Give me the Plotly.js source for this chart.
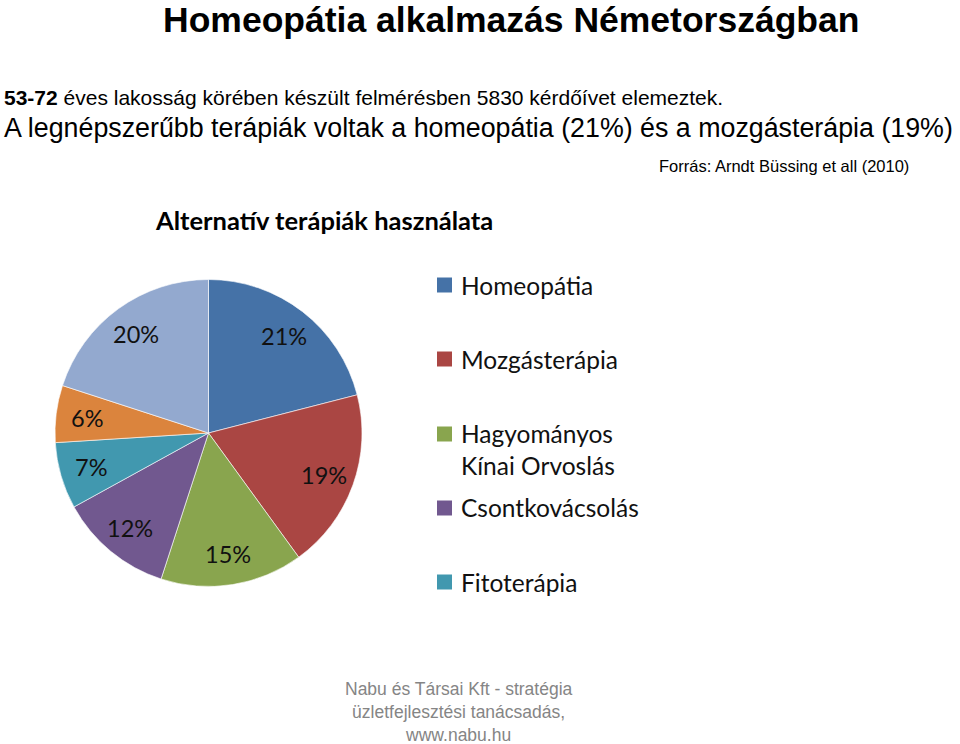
<!DOCTYPE html>
<html>
<head>
<meta charset="utf-8">
<script src="https://cdn.plot.ly/plotly-3.0.1.min.js"></script>
<style>html,body{margin:0;padding:0;background:#fff;}#chart{width:960px;height:744px;}</style>
</head>
<body>
<div id="chart"></div>
<script>
// Data
const sliceLabels = ["Homeopátia", "Mozgásterápia", "Hagyományos Kínai Orvoslás", "Csontkovácsolás", "Fitoterápia", "Egyéb 1", "Egyéb 2"];
const sliceValues = [21, 19, 15, 12, 7, 6, 20];
const sliceColors = ["#4572A7", "#AA4643", "#89A54E", "#71588F", "#4198AF", "#DB843D", "#93A9CF"];
const legendLabels = ["Homeopátia", "Mozgásterápia", "Hagyományos<br>Kínai Orvoslás", "Csontkovácsolás", "Fitoterápia"];

const W = 960, H = 744;
const px = x => x / W;
const py = y => 1 - y / H;

const cx = 208.5, cy = 433, r = 153.5;
const labelR = 0.8;

const pieTrace = {
  type: "pie",
  labels: sliceLabels,
  values: sliceValues,
  sort: false,
  direction: "clockwise",
  rotation: 0,
  marker: {colors: sliceColors, line: {color: "rgba(255,255,255,0.6)", width: 1}},
  textinfo: "none",
  hoverinfo: "label+percent",
  showlegend: false,
  domain: {x: [px(cx - r), px(cx + r)], y: [py(cy + r), py(cy - r)]}
};

const annotations = [];
const shapes = [];
const arial = "'Liberation Sans', Arial, sans-serif";
const calibri = "Lato, 'Open Sans', sans-serif";

// Data labels placed along each slice's bisector (Excel-style best fit)
const total = sliceValues.reduce((a, b) => a + b, 0);
let cum = 0;
sliceValues.forEach(v => {
  const mid = (cum + v / 2) / total * 2 * Math.PI;
  cum += v;
  annotations.push({
    text: Math.round(v / total * 100) + "%",
    x: cx + labelR * r * Math.sin(mid), y: cy - labelR * r * Math.cos(mid),
    xref: "x", yref: "y", xanchor: "center", yanchor: "middle", showarrow: false,
    font: {family: calibri, size: 23.5, color: "#111"}
  });
});

annotations.push({text: "<b>Homeopátia alkalmazás Németországban</b>", x: px(511), y: py(20), xref: "paper", yref: "paper", xanchor: "center", yanchor: "middle", showarrow: false, font: {family: arial, size: 35.5, color: "#000"}});
annotations.push({text: "<b>53-72</b> éves lakosság körében készült felmérésben 5830 kérdőívet elemeztek.", x: px(2), y: py(97), xref: "paper", yref: "paper", xanchor: "left", yanchor: "middle", showarrow: false, font: {family: arial, size: 21, color: "#000"}});
annotations.push({text: "A legnépszerűbb terápiák voltak a homeopátia (21%) és a mozgásterápia (19%)", x: px(2), y: py(128), xref: "paper", yref: "paper", xanchor: "left", yanchor: "middle", showarrow: false, font: {family: arial, size: 26.8, color: "#000"}});
annotations.push({text: "Forrás: Arndt Büssing et all (2010)", x: px(657), y: py(166), xref: "paper", yref: "paper", xanchor: "left", yanchor: "middle", showarrow: false, font: {family: arial, size: 16.5, color: "#000"}});
annotations.push({text: "<b>Alternatív terápiák használata</b>", x: px(153), y: py(220), xref: "paper", yref: "paper", xanchor: "left", yanchor: "middle", showarrow: false, font: {family: calibri, size: 25.5, color: "#000"}});
annotations.push({text: "Nabu és Társai Kft - stratégia<br>üzletfejlesztési tanácsadás,<br>www.nabu.hu", x: px(459), y: py(712), xref: "paper", yref: "paper", xanchor: "center", yanchor: "middle", showarrow: false, font: {family: arial, size: 17.5, color: "#858585"}});

const legY = [285, 359, 434, 508, 582];
legendLabels.forEach((lab, i) => {
  const y = legY[i];
  const twoLine = lab.indexOf("<br>") >= 0;
  shapes.push({type: "rect", xref: "paper", yref: "paper", x0: px(437), x1: px(452), y0: py(y + 7.5), y1: py(y - 7.5), fillcolor: sliceColors[i], line: {width: 0}});
  annotations.push({text: lab, x: px(459), y: py(twoLine ? y + 15.5 : y), xref: "paper", yref: "paper", xanchor: "left", yanchor: "middle", align: "left", showarrow: false, font: {family: calibri, size: 24.5, color: "#111"}});
});

const layout = {
  width: W, height: H,
  margin: {l: 0, r: 0, t: 0, b: 0},
  paper_bgcolor: "#fff",
  plot_bgcolor: "rgba(0,0,0,0)",
  showlegend: false,
  xaxis: {range: [0, W], domain: [0, 1], visible: false, fixedrange: true},
  yaxis: {range: [H, 0], domain: [0, 1], visible: false, fixedrange: true},
  annotations: annotations,
  shapes: shapes
};

Plotly.newPlot("chart", [pieTrace], layout, {displayModeBar: false, staticPlot: true});
</script>
</body>
</html>
